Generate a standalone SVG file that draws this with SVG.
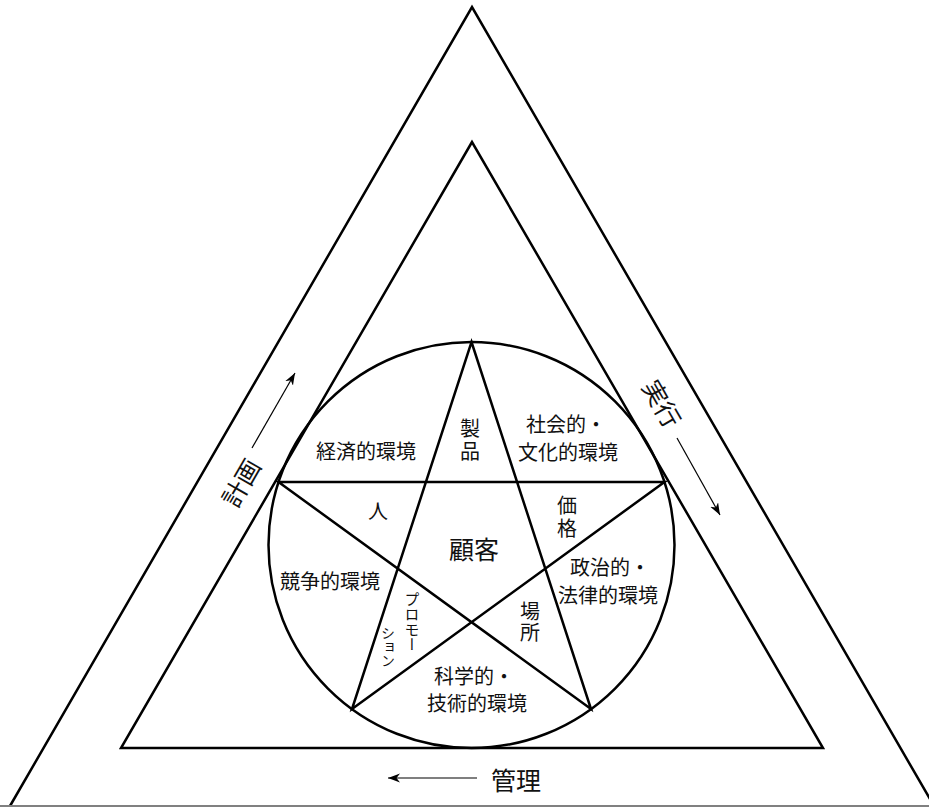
<svg xmlns="http://www.w3.org/2000/svg" width="929" height="808" viewBox="0 0 929 808">
<style>
.ln{fill:none;stroke:#000;stroke-width:2.5;stroke-linejoin:miter}
.ar{fill:none;stroke:#000;stroke-width:1.2}
.t{font-family:"Noto Sans CJK JP","Noto Sans CJK SC",sans-serif;font-size:20px;fill:#111;text-anchor:middle;dominant-baseline:central}
.big{font-size:25px}
.v{writing-mode:vertical-rl;text-anchor:start;dominant-baseline:central}
</style>
<defs>
<marker id="ah" markerWidth="13" markerHeight="10" refX="12" refY="4.5" orient="auto" markerUnits="userSpaceOnUse">
<path d="M0,0 L12,4.5 L0,9 L3.5,4.5 Z" fill="#000"/>
</marker>
</defs>
<rect width="929" height="808" fill="#fff"/>
<g id="outer-triangle">
<polyline class="ln" points="10,806 472,7 934,806"/>
<line x1="0" y1="806" x2="929" y2="806" stroke="#808080" stroke-width="2"/>
</g>
<g id="inner-triangle">
<polygon class="ln" points="472,142 121,748 823,748"/>
</g>
<g id="circle">
<circle class="ln" cx="471.5" cy="545" r="203"/>
</g>
<g id="pentagram">
<polygon class="ln" points="471.5,342 591,709 278.5,482 664.5,482 352,709"/>
</g>
<g id="connectors">
<line class="ar" x1="252" y1="448" x2="295" y2="373" marker-end="url(#ah)"/>
<line class="ar" x1="677" y1="438" x2="720" y2="515" marker-end="url(#ah)"/>
<line class="ar" x1="477" y1="778" x2="388" y2="778" marker-end="url(#ah)"/>
</g>
<g id="label-keizai"><text class="t" x="366" y="450">経済的環境</text></g>
<g id="label-seihin"><text class="t v" x="470" y="418" letter-spacing="3">製品</text></g>
<g id="label-shakai"><text class="t"><tspan x="566" y="423">社会的・</tspan><tspan x="568" y="451">文化的環境</tspan></text></g>
<g id="label-hito"><text class="t" x="378" y="510">人</text></g>
<g id="label-kokyaku"><text class="t big" x="474" y="548">顧客</text></g>
<g id="label-kakaku"><text class="t v" x="567" y="495" letter-spacing="3">価格</text></g>
<g id="label-kyoso"><text class="t" x="330" y="580">競争的環境</text></g>
<g id="label-seiji"><text class="t"><tspan x="610" y="566">政治的・</tspan><tspan x="608" y="594">法律的環境</tspan></text></g>
<g id="label-basho"><text class="t v" x="530" y="601" letter-spacing="1">場所</text></g>
<g id="label-promotion">
<text class="t v" x="412" y="592" style="font-size:15px">プロモー</text>
<text class="t v" x="388" y="626" style="font-size:14px">ション</text>
</g>
<g id="label-kagaku"><text class="t"><tspan x="474" y="675">科学的・</tspan><tspan x="477" y="702">技術的環境</tspan></text></g>
<g id="label-keikaku"><text class="t big" x="240" y="482" transform="rotate(-60 240 482)">計画</text></g>
<g id="label-jikko"><text class="t big" x="663" y="403" transform="rotate(60 663 403)">実行</text></g>
<g id="label-kanri"><text class="t big" x="516" y="779">管理</text></g>
</svg>
